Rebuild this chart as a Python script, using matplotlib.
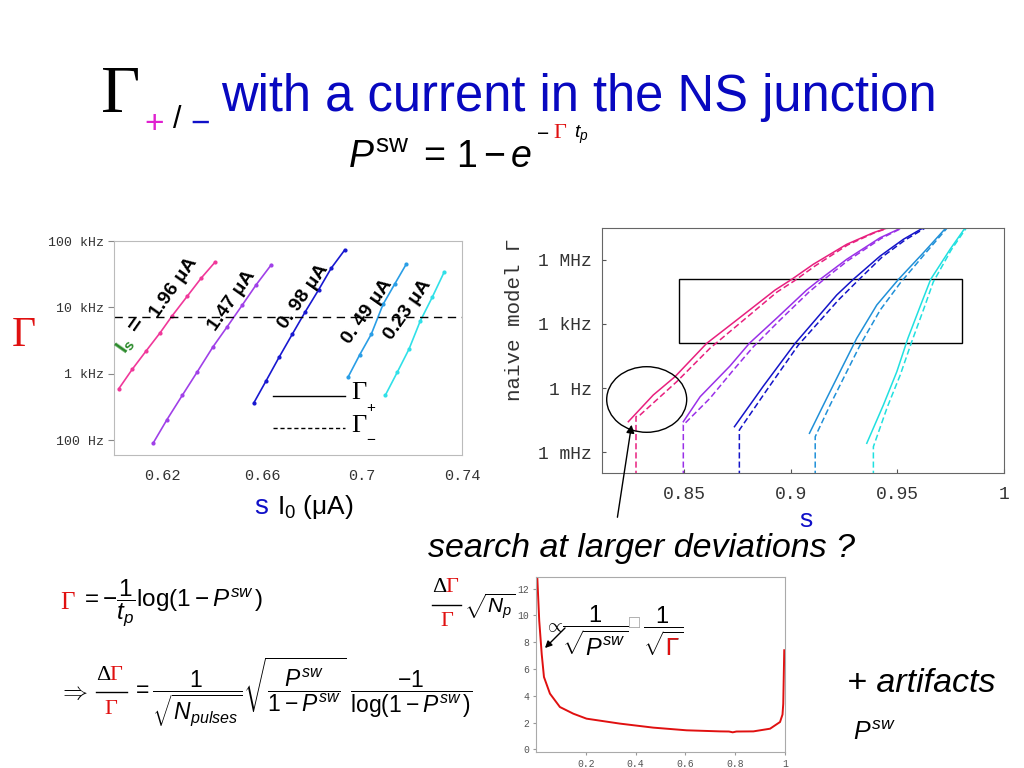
import numpy as np
import matplotlib
matplotlib.use("Agg")
import matplotlib.pyplot as plt
from matplotlib.patches import Rectangle, Ellipse, FancyArrowPatch
from matplotlib.lines import Line2D
from matplotlib.transforms import Bbox

plt.rcParams['font.family'] = ['Liberation Sans', 'DejaVu Sans']
plt.rcParams['mathtext.fontset'] = 'custom'
plt.rcParams['mathtext.rm'] = 'Liberation Sans'
plt.rcParams['mathtext.it'] = 'Liberation Sans:italic'
plt.rcParams['mathtext.bf'] = 'Liberation Sans:bold'

# ---------------- data: plot 1 (Gamma vs s*I0) ----------------
p1_labels = ["1.96 μA", "1.47 μA", "0. 98 μA", "0. 49 μA", "0.23 μA"]
p1_colors = ["#f0389a", "#a040e8", "#1818d0", "#2a9ee6", "#30e0e8"]
p1_x = [
    [0.6027, 0.6081, 0.6137, 0.6193, 0.6240, 0.6301, 0.6357, 0.6411],
    [0.6164, 0.6220, 0.6281, 0.6340, 0.6404, 0.6461, 0.6520, 0.6577, 0.6637],
    [0.6567, 0.6617, 0.6668, 0.6721, 0.6773, 0.6827, 0.6877, 0.6931],
    [0.6944, 0.6991, 0.7037, 0.7084, 0.7131, 0.7177],
    [0.7093, 0.7141, 0.7188, 0.7233, 0.7281, 0.7328],
]
p1_logy = [
    [2.776, 3.070, 3.348, 3.622, 3.871, 4.169, 4.443, 4.677],
    [1.955, 2.313, 2.677, 3.025, 3.408, 3.711, 4.030, 4.343, 4.642],
    [2.562, 2.900, 3.249, 3.597, 3.935, 4.269, 4.592, 4.866],
    [2.950, 3.289, 3.597, 4.045, 4.353, 4.652],
    [2.677, 3.025, 3.373, 3.796, 4.154, 4.527],
]
p1_threshold_hz = 7260.0
p1_xticks = [0.62, 0.66, 0.70, 0.74]
p1_xticklabels = ["0.62", "0.66", "0.7", "0.74"]
p1_yticks = [100, 1e3, 1e4, 1e5]
p1_yticklabels = ["100 Hz", "1 kHz", "10 kHz", "100 kHz"]

# ---------------- data: plot 2 (naive model) ----------------
p2_colors = ["#e8207f", "#9a30e8", "#1414c8", "#2090d8", "#20e0e0"]
p2_solid_x = [
    [0.8237, 0.8354, 0.8456, 0.8605, 0.8746, 0.8926, 0.9004, 0.9105, 0.9262, 0.9387, 0.9466, 0.9513],
    [0.8495, 0.8574, 0.8714, 0.8805, 0.8934, 0.9074, 0.9137, 0.9262, 0.9419, 0.9528, 0.9569],
    [0.8735, 0.8871, 0.9020, 0.9215, 0.9293, 0.9419, 0.9528, 0.9622, 0.9663],
    [0.9087, 0.9168, 0.9246, 0.9309, 0.9403, 0.9505, 0.9622, 0.9724, 0.9757],
    [0.9356, 0.9434, 0.9497, 0.9549, 0.9609, 0.9656, 0.9747, 0.9818, 0.9841],
]
p2_solid_logy = [
    [-1.571, -0.325, 0.530, 2.089, 3.177, 4.577, 5.076, 5.777, 6.710, 7.252, 7.52, 7.75],
    [-1.571, -0.404, 1.029, 2.089, 3.270, 4.577, 5.076, 6.010, 7.018, 7.52, 7.75],
    [-1.804, 0.096, 2.089, 4.343, 5.076, 6.164, 6.944, 7.485, 7.75],
    [-2.112, -0.479, 1.076, 2.322, 3.877, 5.076, 6.318, 7.438, 7.75],
    [-2.579, -0.791, 0.763, 2.322, 3.877, 5.076, 6.477, 7.485, 7.75],
]
p2_dash_x = [
    [0.8273, 0.8273, 0.8292, 0.8464, 0.8620, 0.8760, 0.8935, 0.9015, 0.9113, 0.9266, 0.9390, 0.9470, 0.9517],
    [0.8495, 0.8495, 0.8620, 0.8730, 0.8824, 0.8949, 0.9085, 0.9146, 0.9268, 0.9423, 0.9531, 0.9574],
    [0.8758, 0.8758, 0.8887, 0.9035, 0.9223, 0.9309, 0.9428, 0.9536, 0.9630, 0.9672],
    [0.9114, 0.9114, 0.9184, 0.9262, 0.9325, 0.9419, 0.9513, 0.9626, 0.9729, 0.9761],
    [0.9387, 0.9387, 0.9453, 0.9513, 0.9567, 0.9625, 0.9668, 0.9752, 0.9823, 0.9846],
]
p2_dash_logy = [
    [-5.0, -1.338, -1.258, 0.296, 1.855, 3.022, 4.484, 4.997, 5.697, 6.678, 7.238, 7.52, 7.75],
    [-5.0, -1.725, -0.479, 0.842, 1.930, 3.177, 4.484, 4.997, 5.954, 6.981, 7.52, 7.75],
    [-5.0, -1.959, -0.091, 2.009, 4.110, 4.964, 6.117, 6.911, 7.471, 7.75],
    [-5.0, -2.271, -0.791, 0.763, 2.009, 3.643, 4.904, 6.234, 7.424, 7.75],
    [-5.0, -2.738, -0.871, 0.609, 2.163, 3.737, 4.950, 6.444, 7.471, 7.75],
]
p2_box_x = [0.8476, 0.9802]
p2_box_logy = [2.089, 5.076]
p2_xticks = [0.85, 0.9, 0.95, 1.0]
p2_xticklabels = ["0.85", "0.9", "0.95", "1"]
p2_yticks = [1e-3, 1.0, 1e3, 1e6]
p2_yticklabels = ["1 mHz", "1 Hz", "1 kHz", "1 MHz"]

# ---------------- data: plot 3 (relative error vs Psw) ----------------
p3_x = [0.003, 0.005, 0.013, 0.023, 0.032, 0.056, 0.096, 0.150, 0.203, 0.337,
        0.471, 0.605, 0.739, 0.775, 0.790, 0.805, 0.873, 0.940, 0.980, 0.990, 0.993, 0.997]
p3_y = [13.5, 12.9, 9.6, 7.1, 5.4, 4.16, 3.16, 2.66, 2.29, 1.92,
        1.62, 1.42, 1.34, 1.33, 1.27, 1.33, 1.34, 1.54, 2.04, 2.6, 3.4, 7.4]
p3_xticks = [0.2, 0.4, 0.6, 0.8, 1.0]
p3_xticklabels = ["0.2", "0.4", "0.6", "0.8", "1"]
p3_yticks = [0, 2, 4, 6, 8, 10, 12]

# ---------------- figure ----------------
W, H = 1024, 768
fig = plt.figure(figsize=(W / 100, H / 100), dpi=100)


def fx(x):
    return x / W


def fy(y):
    return 1 - y / H


def axes_px(l, t, r, b):
    return fig.add_axes([fx(l), fy(b), (r - l) / W, (b - t) / H])


def T(x, y, s, **kw):
    kw.setdefault('ha', 'left')
    kw.setdefault('va', 'center')
    return fig.text(fx(x), fy(y), s, **kw)


SERIF = ['Liberation Serif', 'DejaVu Serif']
MONO = ['Liberation Mono', 'DejaVu Sans Mono']
RED = '#e01010'

# ---------- Title ----------
T(101, 96, "Γ", fontsize=49, family=SERIF, color='black')
T(144, 125, "+", fontsize=24, color='#e020d0')
T(173, 120, "/", fontsize=22, color='black')
T(190, 124, "−", fontsize=24, color='#1010c8')
T(221, 98, "with a current in the NS junction", fontsize=36.5, color='#0808c0')

T(348, 158, r"$P^{\mathrm{sw}}\;{=}\,1\,{-}\,e$", fontsize=27, color='black')
T(537, 134, "−", fontsize=15, color='black')
T(553, 133, "Γ", fontsize=16, family=SERIF, color=RED)
T(574, 135, r"$t_p$", fontsize=14, color='black')

# ---------- Plot 1 ----------
ax1 = axes_px(114, 241, 462, 455)
ax1.set_yscale('log')
for xs, ly, c in zip(p1_x, p1_logy, p1_colors):
    ax1.plot(xs, 10 ** np.array(ly), '-', color=c, lw=1.2, marker='o', ms=2.0)
ax1.axhline(p1_threshold_hz, color='black', ls=(0, (6, 4)), lw=1.0)
ax1.set_xlim(0.6008, 0.74)
ax1.set_ylim(10 ** 1.78, 10 ** 5.0)
ax1.set_xticks(p1_xticks)
ax1.set_xticklabels(p1_xticklabels, family=MONO, fontsize=11, color='#333333')
ax1.set_yticks(p1_yticks)
ax1.set_yticklabels(p1_yticklabels, family=MONO, fontsize=9.5, color='#333333')
ax1.minorticks_off()
ax1.tick_params(axis='y', direction='out', length=4, color='#888888')
ax1.tick_params(axis='x', direction='out', length=0, pad=10)
for sp in ax1.spines.values():
    sp.set_color('#bbbbbb')

# legend inside plot 1
fig.add_artist(Line2D([fx(273), fx(345)], [fy(396), fy(396)], color='black', lw=1.0))
fig.add_artist(Line2D([fx(273), fx(345)], [fy(428), fy(428)], color='black', lw=1.0, ls=(0, (3, 2))))
T(351, 393, "Γ", fontsize=19, family=SERIF)
T(366, 408, "+", fontsize=11)
T(351, 426, "Γ", fontsize=19, family=SERIF)
T(366, 440, "−", fontsize=11)

label_pos = [(174, 288), (232, 301), (303, 297), (367, 312), (408, 310)]
for (x, y), s in zip(label_pos, p1_labels):
    T(x, y, s, ha='center', va='center', rotation=55, fontsize=14, fontweight='bold')
T(126, 345, r"$\mathbf{I}_{\mathbf{s}}$", ha='center', va='center', rotation=55,
  fontsize=15, color='#2a8a2a')
T(137, 324, "=", ha='center', va='center', rotation=55, fontsize=17, fontweight='bold')

T(12, 336, "Γ", fontsize=30, family=SERIF, color=RED)
T(254, 507, "s", fontsize=20, color='#1010c8')
T(277, 507, r"I$_0$ (μA)", fontsize=19, color='black')

# ---------- Plot 2 ----------
ax2 = axes_px(601.7, 227.7, 1004, 473.3)
ax2.set_yscale('log')
for xs, ly, c in zip(p2_solid_x, p2_solid_logy, p2_colors):
    ax2.plot(xs, 10 ** np.array(ly), '-', color=c, lw=1.1)
for xs, ly, c in zip(p2_dash_x, p2_dash_logy, p2_colors):
    ax2.plot(xs, 10 ** np.array(ly), color=c, lw=1.1, ls=(0, (4, 2)))
ax2.add_patch(Rectangle((p2_box_x[0], 10 ** p2_box_logy[0]), p2_box_x[1] - p2_box_x[0],
                        10 ** p2_box_logy[1] - 10 ** p2_box_logy[0], fill=False,
                        ec='black', lw=1.0))
ax2.set_xlim(0.8112, 1.0)
ax2.set_ylim(10 ** -3.98, 10 ** 7.485)
ax2.set_xticks(p2_xticks)
ax2.set_xticklabels(p2_xticklabels, family=MONO, fontsize=13, color='#333333')
ax2.set_yticks(p2_yticks)
ax2.set_yticklabels(p2_yticklabels, family=MONO, fontsize=13, color='#333333')
ax2.minorticks_off()
ax2.tick_params(axis='y', direction='in', length=3, color='#555555', pad=7)
ax2.tick_params(axis='x', direction='in', length=3, color='#555555', pad=9)
for sp in ax2.spines.values():
    sp.set_color('#666666')
T(514, 320, "naive model Γ", rotation=90, ha='center', va='center', family=MONO,
  fontsize=15, color='#333333')
T(806, 520, "s", ha='center', fontsize=19, color='#1010c8')

fig.add_artist(Ellipse((fx(646.7), fy(399.5)), 80 / W, 65.6 / H, transform=fig.transFigure,
                       fill=False, ec='black', lw=1.0))
fig.add_artist(FancyArrowPatch((617, H - 520), (632, H - 422), transform=None,
                               arrowstyle='-|>', mutation_scale=12, color='black', lw=1.0))

T(428, 549, "search at larger deviations ?", fontsize=24.5, style='italic')

# ---------- Plot 3 ----------
ax3 = axes_px(536, 577, 785, 752)
ax3.plot(p3_x, p3_y, color=RED, lw=1.4)
ax3.set_xlim(0.0, 1.0)
ax3.set_ylim(-0.2, 12.87)
ax3.set_xticks(p3_xticks)
ax3.set_xticklabels(p3_xticklabels, family=MONO, fontsize=7, color='#555555')
ax3.set_yticks(p3_yticks)
ax3.set_yticklabels([str(v) for v in p3_yticks], family=MONO, fontsize=7, color='#555555')
ax3.tick_params(direction='out', length=2, color='#999999', pad=3)
for sp in ax3.spines.values():
    sp.set_color('#aaaaaa')

# label left of plot 3
T(432, 588, "Δ", fontsize=16, family=SERIF, va='center')
T(445, 588, "Γ", fontsize=16, family=SERIF, color=RED, va='center')
fig.add_artist(Line2D([fx(432), fx(461)], [fy(605), fy(605)], color='black', lw=1.0))
T(440, 621, "Γ", fontsize=16, family=SERIF, color=RED, va='center')
T(464, 606, r"$\sqrt{N_p}$", fontsize=15)

# inside plot 3
T(544, 627, r"$\propto$", fontsize=14)
fig.add_artist(FancyArrowPatch((567, H - 626), (543, H - 650), transform=None,
                               arrowstyle='-|>', mutation_scale=10, color='black', lw=1.0))
T(595, 631, r"$\dfrac{1}{\sqrt{P^{sw}}}$", ha='center', fontsize=17)
T(634, 624, "□", ha='center', fontsize=13, color='#999999')
frac_tex = r"$\dfrac{1}{\sqrt{\Gamma}}$"
tb = T(663, 631, frac_tex, ha='center', fontsize=17, color='black')
tr = T(663, 631, frac_tex, ha='center', fontsize=17, color=RED)
renderer = fig.canvas.get_renderer()
ext = tb.get_window_extent(renderer)
clip = Bbox.from_extents(ext.x0 + 0.48 * ext.width, ext.y0 - 2,
                         ext.x1 + 2, ext.y0 + 0.40 * ext.height)
tr.set_clip_box(clip)
tr.set_clip_on(True)

T(847, 684, "+ artifacts", fontsize=24.5, style='italic')
T(853, 733, r"$P^{sw}$", fontsize=18)

# ---------- formulas bottom left ----------
T(60, 603, "Γ", fontsize=18, family=SERIF, color=RED)
T(80, 603, r"$= -\dfrac{1}{t_p}\log(1 - P^{sw}\,)$", fontsize=17.5)

T(58, 692, r"$\Rightarrow$", fontsize=18)
T(96, 676, "Δ", fontsize=16, family=SERIF)
T(109, 676, "Γ", fontsize=16, family=SERIF, color=RED)
fig.add_artist(Line2D([fx(96), fx(127)], [fy(692), fy(692)], color='black', lw=1.0))
T(104, 709, "Γ", fontsize=16, family=SERIF, color=RED)
T(132, 692, r"$= \dfrac{1}{\sqrt{N_{pulses}}}\sqrt{\dfrac{P^{sw}}{1 - P^{sw}}}\ \dfrac{-1}{\log(1 - P^{sw}\,)}$",
  fontsize=16.5)

fig.savefig("out.png", dpi=100, facecolor='white')
